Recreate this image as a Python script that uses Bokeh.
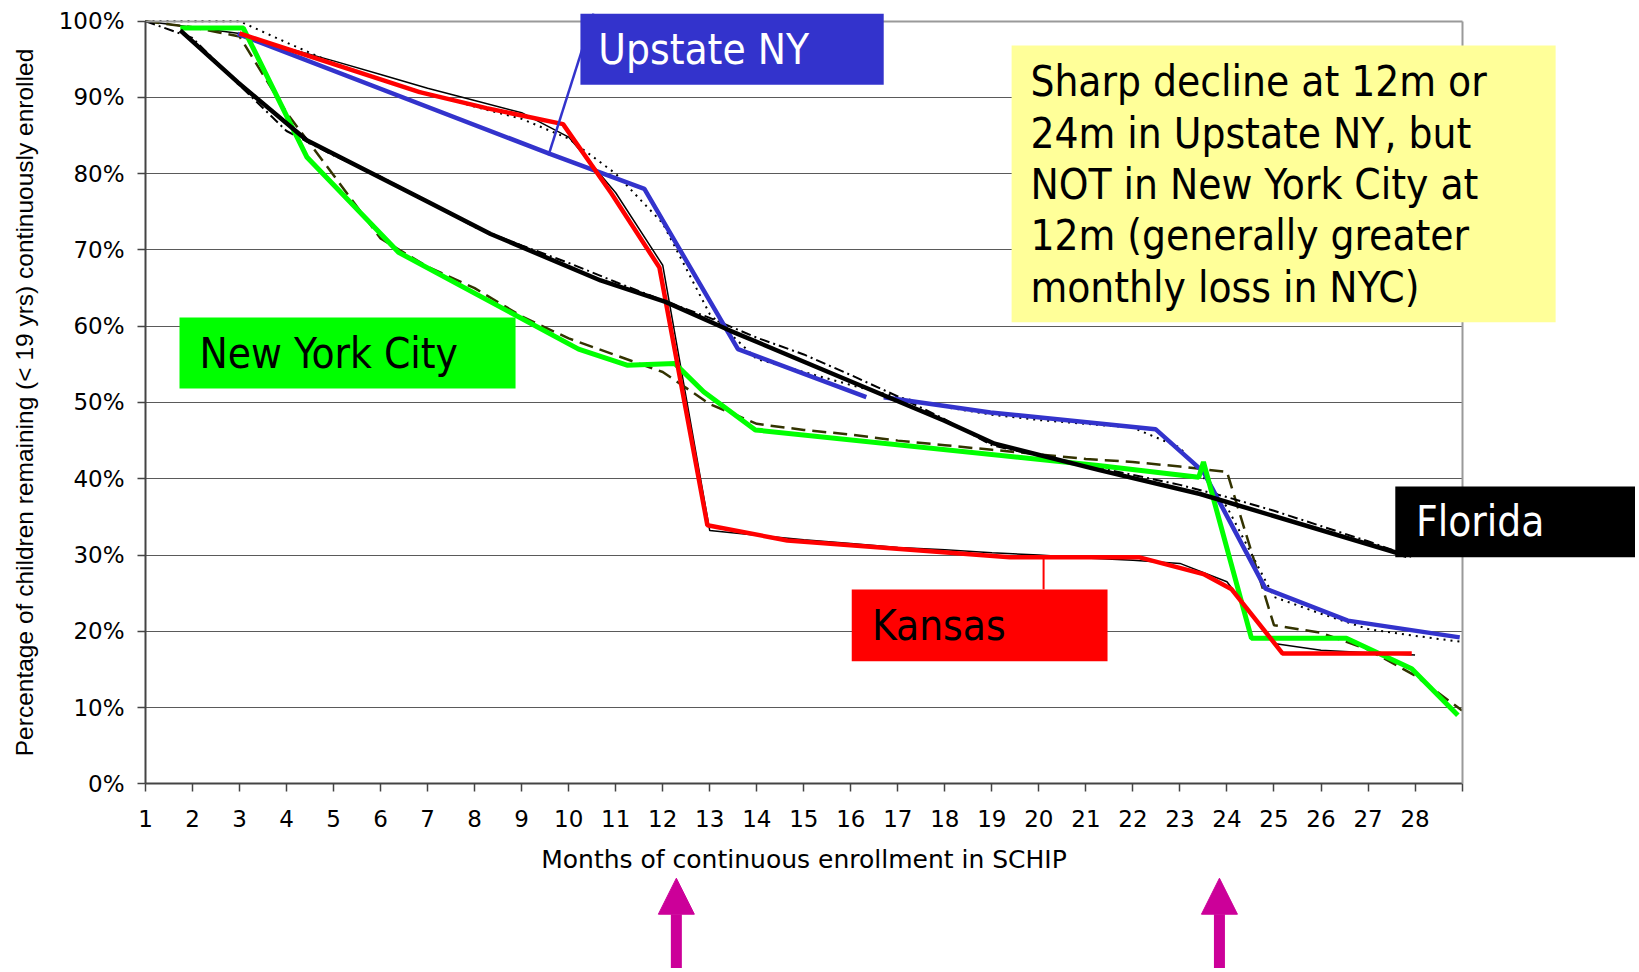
import math
from bokeh.plotting import figure
from bokeh.models import (Range1d, FixedTicker, PrintfTickFormatter, BoxAnnotation,
                          Label, Arrow, NormalHead, LinearAxis)
from bokeh.embed import file_html
from bokeh.resources import INLINE

NAN = float("nan")

# ---------------- data ----------------
month_ticks = list(range(1, 30))
month_labels = [str(m) for m in range(1, 29)] + [""]
pct_ticks = [0, 10, 20, 30, 40, 50, 60, 70, 80, 90, 100]
grid_ticks = [10, 20, 30, 40, 50, 60, 70, 80, 90]

# thin lines: monthly survival (integer months)
kansas_months = list(range(1, 29))
kansas_actual = [100, 99.2, 98.4, 96.5, 94.8, 93.0, 91.2, 89.6, 88.0, 84.8, 77.5, 68.0,
                 33.2, 32.6, 32.0, 31.5, 31.0, 30.7, 30.3, 30.0, 29.6, 29.3, 28.9, 26.5,
                 18.4, 17.5, 17.2, 16.9]
upstate_months = list(range(1, 30))
upstate_actual = [100, 100, 100, 97.2, 94.5, 92.4, 90.5, 88.8, 87.2, 84.6, 80.0, 73.5,
                  61.6, 55.7, 54.0, 52.3, 50.7, 49.4, 48.4, 47.7, 47.2, 46.7, 44.1, 36.3,
                  24.5, 22.3, 20.3, 19.4, 18.6]
nyc_months = list(range(1, 30))
nyc_actual = [100, 99.2, 98.0, 88.0, 79.8, 71.5, 67.8, 65.0, 61.3, 58.4, 56.2, 54.0,
              49.8, 47.2, 46.4, 45.8, 45.0, 44.4, 43.8, 43.2, 42.6, 42.2, 41.6, 40.9,
              20.8, 19.8, 17.6, 14.2, 9.6]
florida_months = list(range(1, 29))
florida_actual = [100, 97.8, 91.6, 85.6, 82.4, 79.6, 76.4, 73.0, 70.6, 68.3, 65.8, 63.4,
                  61.1, 58.5, 56.3, 53.6, 50.8, 47.8, 44.4, 43.0, 41.8, 40.5, 39.2, 37.6,
                  35.8, 33.8, 31.8, 29.6]

# thick highlighted traces (hand-drawn over the chart)
kansas_x = [3.0, 6.83, 8.25, 9.88, 10.91, 11.93, 12.95, 14.65, 19.38, 22.14, 23.5, 24.1, 25.18, 27.93]
kansas_y = [98.4, 90.7, 88.6, 86.5, 77.4, 67.7, 33.9, 31.9, 29.7, 29.7, 27.5, 25.5, 17.1, 17.1]
upstate_x = [2.96, 9.6, 11.61, 13.6, 16.33, NAN, 16.7, 18.97, 22.48, 23.5, 24.82, 26.57, 28.95]
upstate_y = [98.35, 82.6, 78.0, 57.0, 50.7, NAN, 50.7, 48.7, 46.5, 40.9, 25.6, 21.4, 19.2]
nyc_x = [1.74, 3.08, 4.43, 6.38, 10.21, 11.24, 12.26, 12.87, 13.97, 21.31, 23.4, 23.5, 24.52, 26.54, 27.93, 28.91]
nyc_y = [99.1, 99.1, 82.2, 69.7, 57.0, 54.9, 55.1, 51.4, 46.4, 41.7, 40.2, 42.2, 19.1, 19.1, 15.1, 9.0]
florida_x = [1.74, 2.96, 4.43, 6.95, 8.34, 10.68, 12.06, 13.44, 17.99, 19.06, 21.31, 23.43, 27.82]
florida_y = [98.8, 92.0, 84.4, 76.5, 72.1, 66.0, 63.2, 59.4, 47.6, 44.6, 41.1, 38.0, 29.9]

note_lines = ["Sharp decline at 12m or", "24m in Upstate NY, but",
              "NOT in New York City at", "12m (generally greater",
              "monthly loss in NYC)"]
arrow_months = [12.29, 23.84]

# ---------------- figure ----------------
# frame spans the whole canvas; axes are pinned at x=1 and y=0
p = figure(frame_width=1635, frame_height=968,
           x_range=Range1d(-2.0838, 32.6886), y_range=Range1d(-24.22, 102.714),
           output_backend="svg", toolbar_location=None,
           min_border_left=0, min_border_right=0, min_border_top=0, min_border_bottom=0,
           background_fill_color="white", border_fill_color="white")

p.outline_line_color = None
p.xgrid.visible = False
p.ygrid.ticker = FixedTicker(ticks=grid_ticks)
p.ygrid.grid_line_color = "#5a5a5a"
p.ygrid.grid_line_width = 1
try:
    p.ygrid.cross_bounds = (1, 29)
except Exception:
    pass

AX_FONT = "DejaVu Sans"
xa = p.xaxis[0]
xa.fixed_location = 0
xa.bounds = (1, 29)
xa.ticker = FixedTicker(ticks=month_ticks)
xa.major_label_overrides = {m: lab for m, lab in zip(month_ticks, month_labels)}
xa.minor_tick_line_color = None
xa.major_tick_in = 0
xa.major_tick_out = 8
xa.major_tick_line_color = "#444444"
xa.major_tick_line_width = 1.5
xa.axis_line_color = "#444444"
xa.axis_line_width = 2
xa.major_label_text_font = AX_FONT
xa.major_label_text_font_size = "23px"
xa.major_label_text_color = "black"
xa.major_label_standoff = 18
xa.axis_label = "Months of continuous enrollment in SCHIP"
xa.axis_label_text_font = AX_FONT
xa.axis_label_text_font_size = "25px"
xa.axis_label_text_font_style = "normal"
xa.axis_label_text_color = "black"
xa.axis_label_standoff = 15

ya = p.yaxis[0]
ya.fixed_location = 1
ya.bounds = (0, 100)
ya.ticker = FixedTicker(ticks=pct_ticks)
ya.formatter = PrintfTickFormatter(format="%d%%")
ya.minor_tick_line_color = None
ya.major_tick_in = 0
ya.major_tick_out = 8
ya.major_tick_line_color = "#444444"
ya.major_tick_line_width = 1.5
ya.axis_line_color = "#444444"
ya.axis_line_width = 2
ya.major_label_text_font = AX_FONT
ya.major_label_text_font_size = "23px"
ya.major_label_text_color = "black"
ya.major_label_standoff = 13
ya.axis_label = "Percentage of children remaining (< 19 yrs) continuously enrolled"
ya.axis_label_text_font = "Liberation Sans"
ya.axis_label_text_font_size = "24.5px"
ya.axis_label_text_font_style = "normal"
ya.axis_label_text_color = "black"
ya.axis_label_standoff = 18

# plot-area border on the right and top (light grey)
for side, loc, bnds in (("right", 29, (0, 100)), ("above", 100, (1, 29))):
    ax = LinearAxis(fixed_location=loc, bounds=bnds, ticker=FixedTicker(ticks=[]),
                    axis_line_color="#9a9a9a", axis_line_width=2,
                    major_tick_line_color=None, minor_tick_line_color=None,
                    major_label_text_font_size="0px")
    p.add_layout(ax, side)

# thin monthly series
p.line(kansas_months, kansas_actual, line_color="black", line_width=1.5)
p.line(upstate_months, upstate_actual, line_color="black", line_width=2, line_dash="2 5")
p.line(nyc_months, nyc_actual, line_color="#333300", line_width=2.5, line_dash="14 7")
p.line(florida_months, florida_actual, line_color="black", line_width=2, line_dash="10 4 2 4")

# thick traces
p.line(upstate_x, upstate_y, line_color="#3333CC", line_width=4.5)
p.line(nyc_x, nyc_y, line_color="#00FF00", line_width=5)
p.line(kansas_x, kansas_y, line_color="#FF0000", line_width=4.5)
p.line(florida_x, florida_y, line_color="black", line_width=4.5)

# connectors
p.add_layout(Arrow(end=None, x_start=9.57, y_start=82.4, x_end=10.53, y_end=101.0,
                   line_color="#3333CC", line_width=2.5))
p.add_layout(Arrow(end=None, x_start=20.1, y_start=25.5, x_end=20.1, y_end=29.7,
                   line_color="#FF0000", line_width=2))

BOX_FONT = "DejaVu Sans Condensed"
boxes = [
    dict(left=10.25, right=16.70, top=100.97, bottom=91.66, color="#3333CC"),
    dict(left=1.723, right=8.87, top=61.15, bottom=51.84, color="#00FF00"),
    dict(left=19.42, right=30.99, top=96.81, bottom=60.53, color="#FFFF99"),
    dict(left=27.58, right=32.69, top=38.99, bottom=29.71, color="black"),
    dict(left=16.02, right=21.46, top=25.48, bottom=16.08, color="#FF0000"),
]
for b in boxes:
    p.add_layout(BoxAnnotation(left=b["left"], right=b["right"], top=b["top"],
                               bottom=b["bottom"], fill_color=b["color"], fill_alpha=1,
                               line_color=None))

TEXT_SHIFT = 2.0  # compensates for label box descent
labels = [
    (10.63, 94.32, "Upstate NY", "white"),
    (2.148, 54.46, "New York City", "black"),
    (28.02, 32.34, "Florida", "white"),
    (16.45, 18.79, "Kansas", "black"),
]
for x, y, t, c in labels:
    p.add_layout(Label(x=x, y=y + TEXT_SHIFT, text=t, text_color=c, text_font=BOX_FONT,
                       text_font_size="42px", text_baseline="alphabetic", text_align="left"))

note_y = [90.04, 83.27, 76.58, 69.84, 63.02]
for t, y in zip(note_lines, note_y):
    p.add_layout(Label(x=19.82, y=y + TEXT_SHIFT, text=t, text_color="black", text_font=BOX_FONT,
                       text_font_size="42px", text_baseline="alphabetic", text_align="left"))

# magenta arrows below the axis
for m in arrow_months:
    p.add_layout(Arrow(end=NormalHead(size=36, fill_color="#CC0099", line_color="#CC0099"),
                       x_start=m, y_start=-26.0, x_end=m, y_end=-12.38,
                       line_color="#CC0099", line_width=11))

open("out.html", "w").write(file_html(p, INLINE))
